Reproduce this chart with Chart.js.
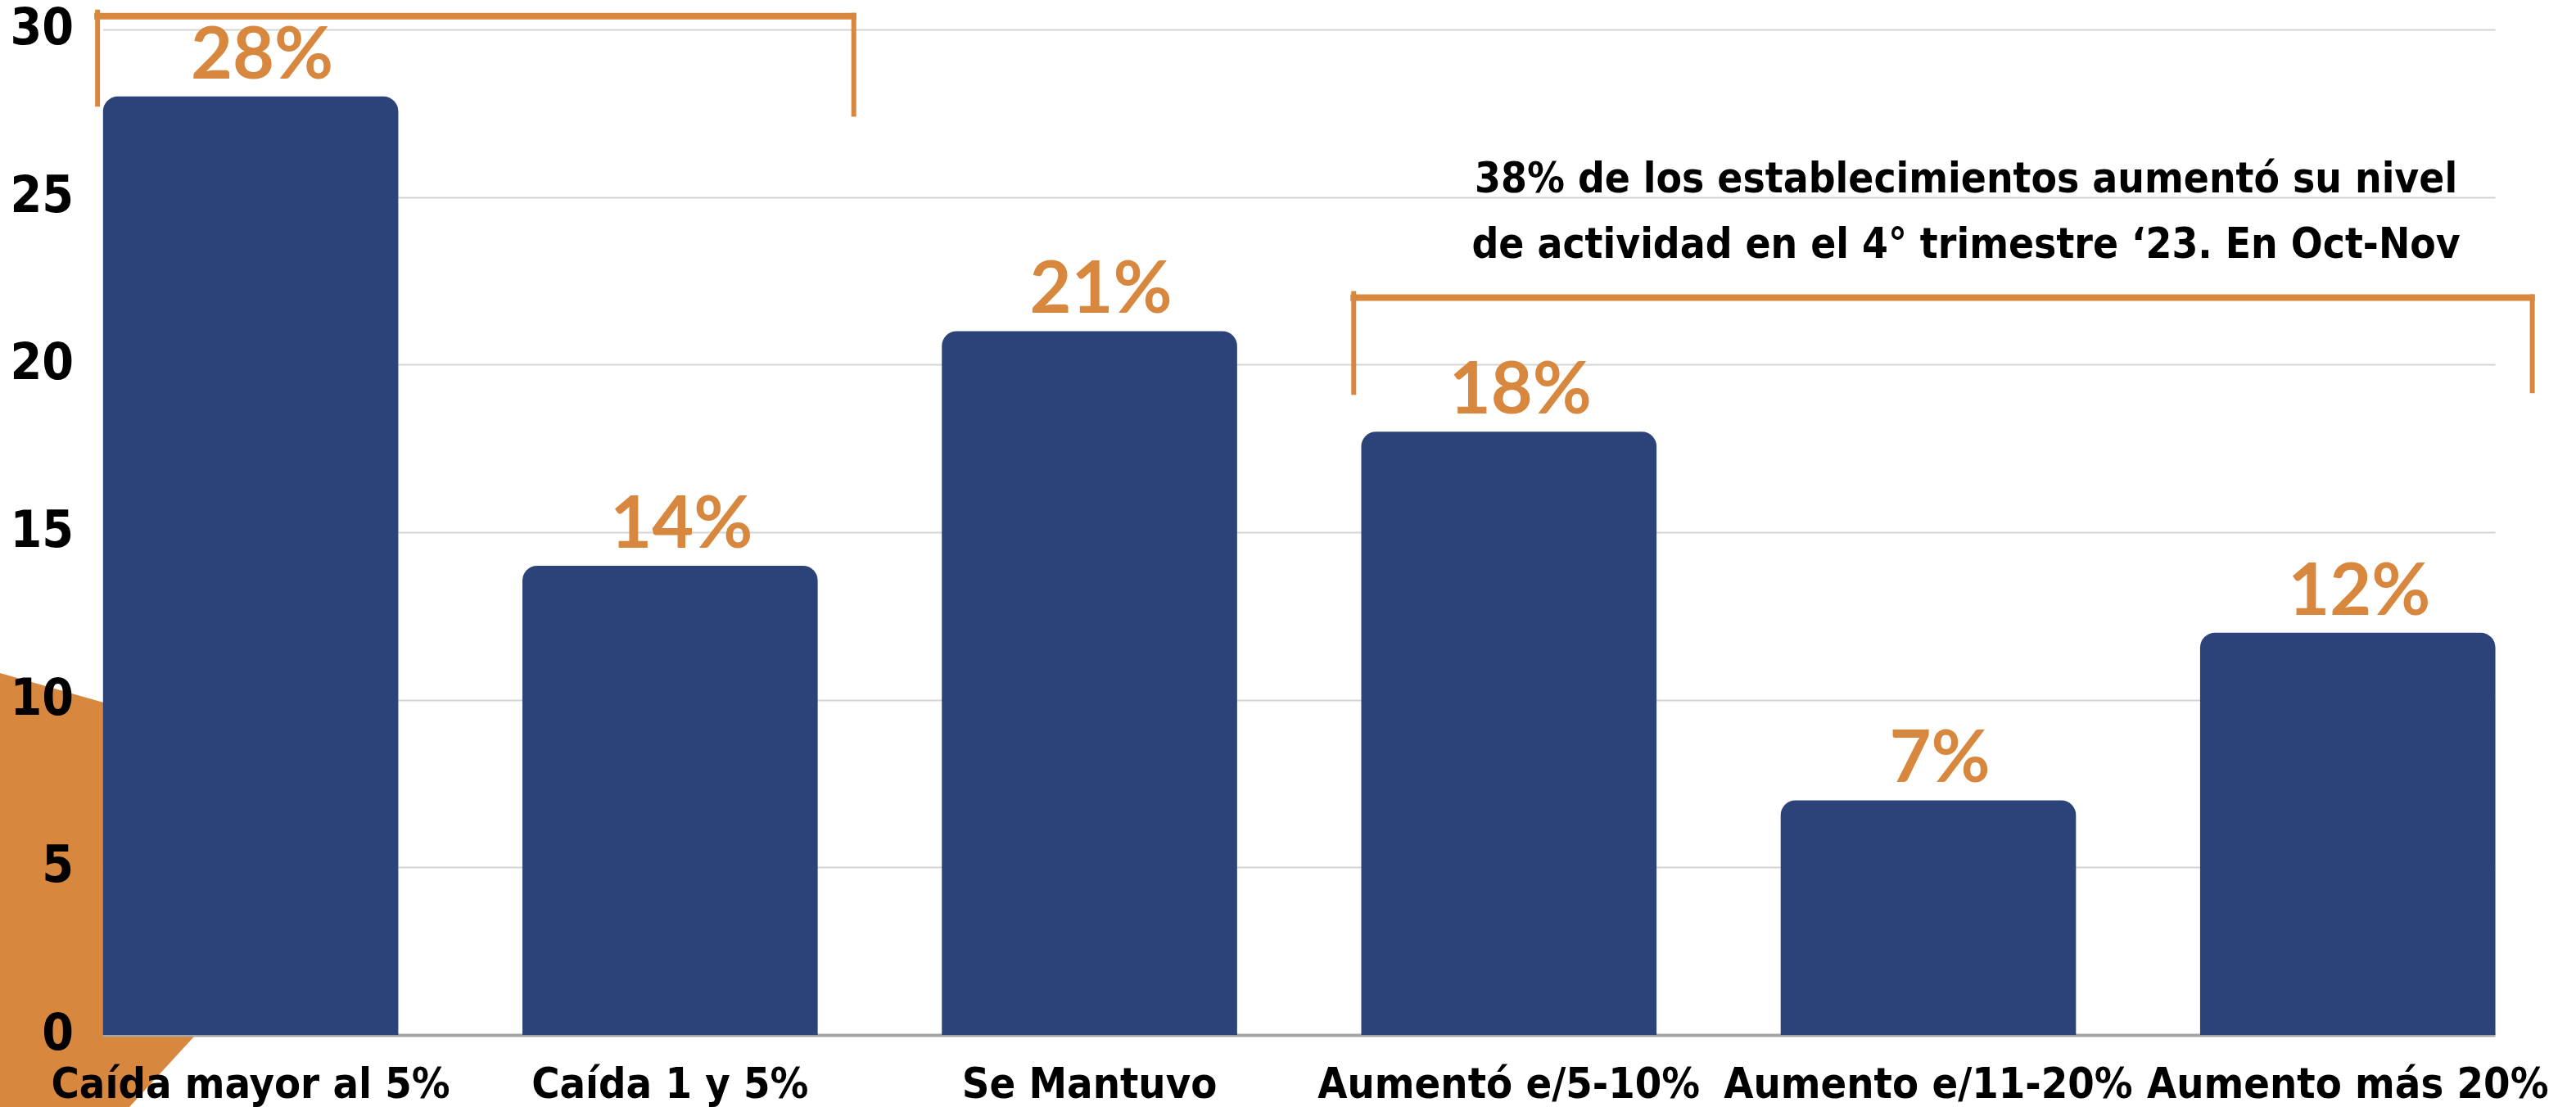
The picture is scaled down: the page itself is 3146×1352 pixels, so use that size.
<!DOCTYPE html>
<html>
<head>
<meta charset="utf-8">
<script src="https://cdn.jsdelivr.net/npm/chart.js@4"></script>
<style>
  html, body { margin: 0; padding: 0; background: #fff; }
  #wrap { width: 3146px; height: 1352px; position: relative; }
</style>
</head>
<body>
<div id="wrap"><canvas id="activity-chart"></canvas></div>
<script>
const categories = ['Caída mayor al 5%', 'Caída 1 y 5%', 'Se Mantuvo', 'Aumentó e/5-10%', 'Aumento e/11-20%', 'Aumento más 20%'];
const shares = [28, 14, 21, 18, 7, 12];
const yTicks = [0, 5, 10, 15, 20, 25, 30];
const noteLines = ['38% de los establecimientos aumentó su nivel', 'de actividad en el 4° trimestre ‘23. En Oct-Nov'];

const navy = '#2c4379';
const orange = '#d8873f';
const condensed = "'Liberation Sans Narrow', 'DejaVu Sans Condensed', sans-serif";

// orange corner shape behind the chart
const backgroundShape = {
  id: 'backgroundShape',
  beforeDraw(chart) {
    const ctx = chart.ctx;
    ctx.save();
    ctx.fillStyle = orange;
    ctx.beginPath();
    ctx.moveTo(0, 822);
    ctx.lineTo(460, 953);
    ctx.lineTo(470, 1012);
    ctx.lineTo(158, 1352);
    ctx.lineTo(0, 1352);
    ctx.closePath();
    ctx.fill();
    ctx.restore();
  },
};

// grid lines only between the outer bars, plus the y tick labels
const barGrid = {
  id: 'barGrid',
  beforeDatasetsDraw(chart) {
    const ctx = chart.ctx;
    const bars = chart.getDatasetMeta(0).data;
    const left = bars[0].x - bars[0].width / 2;
    const right = bars[bars.length - 1].x + bars[bars.length - 1].width / 2;
    const y = chart.scales.y;
    ctx.save();
    for (const t of yTicks) {
      const py = Math.round(y.getPixelForValue(t)) + 0.5;
      ctx.strokeStyle = t === 0 ? '#a6a6a6' : '#d4d4d4';
      ctx.lineWidth = t === 0 ? 4 : 2;
      ctx.beginPath();
      ctx.moveTo(left, py);
      ctx.lineTo(right, py);
      ctx.stroke();
    }
    ctx.fillStyle = '#000';
    ctx.font = 'bold 62px ' + condensed;
    ctx.textAlign = 'right';
    ctx.textBaseline = 'middle';
    for (const t of yTicks) {
      ctx.fillText(String(t), 90, y.getPixelForValue(t) + 2);
    }
    ctx.restore();
  },
};

const extras = {
  id: 'extras',
  afterDatasetsDraw(chart) {
    const ctx = chart.ctx;
    const x = chart.scales.x;
    const y = chart.scales.y;
    const bars = chart.getDatasetMeta(0).data;
    ctx.save();

    // value labels
    ctx.fillStyle = orange;
    ctx.font = "bold 88px Lato, 'Open Sans', sans-serif";
    ctx.textAlign = 'center';
    ctx.textBaseline = 'alphabetic';
    bars.forEach((bar, i) => {
      ctx.fillText(shares[i] + '%', bar.x + 14, bar.y - 22);
    });

    // brackets
    ctx.strokeStyle = orange;
    ctx.lineCap = 'butt';
    const bracket = (x0, x1, yTop, yL, yR) => {
      const px0 = x.getPixelForValue(x0);
      const px1 = x.getPixelForValue(x1);
      const pTop = y.getPixelForValue(yTop);
      ctx.lineWidth = 8;
      ctx.beginPath();
      ctx.moveTo(px0 - 4, pTop);
      ctx.lineTo(px1 + 3, pTop);
      ctx.stroke();
      ctx.lineWidth = 6;
      ctx.beginPath();
      ctx.moveTo(px0, pTop - 8);
      ctx.lineTo(px0, y.getPixelForValue(yL));
      ctx.moveTo(px1, pTop - 4);
      ctx.lineTo(px1, y.getPixelForValue(yR));
      ctx.stroke();
    };
    bracket(-0.365, 1.438, 30.4, 27.7, 27.4);
    bracket(2.63, 5.44, 22.0, 19.1, 19.15);

    // note text
    ctx.fillStyle = '#000';
    ctx.font = 'bold 51px ' + condensed;
    ctx.textBaseline = 'middle';
    const noteX = x.getPixelForValue(4.09);
    noteLines.forEach((line, i) => {
      ctx.fillText(line, noteX, y.getPixelForValue(25.45 - i * 1.95));
    });
    ctx.restore();
  },
};

new Chart(document.getElementById('activity-chart'), {
  type: 'bar',
  data: {
    labels: categories,
    datasets: [
      {
        data: shares,
        backgroundColor: navy,
        borderRadius: { topLeft: 18, topRight: 18, bottomLeft: 0, bottomRight: 0 },
        borderSkipped: 'bottom',
        categoryPercentage: 1,
        barPercentage: 0.704,
      },
    ],
  },
  options: {
    responsive: true,
    maintainAspectRatio: false,
    devicePixelRatio: 1,
    animation: false,
    layout: { padding: { top: 36, right: 18, left: 50, bottom: 0 } },
    plugins: { legend: { display: false }, tooltip: { enabled: false } },
    scales: {
      x: {
        grid: { display: false, drawTicks: false },
        border: { display: false },
        ticks: {
          color: '#000',
          font: { family: condensed, size: 52, weight: 'bold' },
          padding: 32,
          maxRotation: 0,
          autoSkip: false,
        },
        afterFit(scale) { scale.height = 88; },
      },
      y: {
        display: false,
        min: 0,
        max: 30,
        ticks: { stepSize: 5 },
      },
    },
  },
  plugins: [backgroundShape, barGrid, extras],
});
</script>
</body>
</html>
